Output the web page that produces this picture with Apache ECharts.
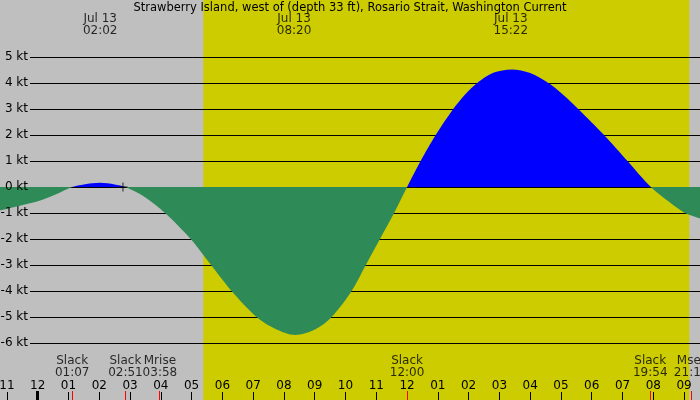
<!DOCTYPE html>
<html>
<head>
<meta charset="utf-8">
<script src="https://cdn.jsdelivr.net/npm/echarts@6/dist/echarts.min.js"></script>
<style>
html, body { margin: 0; padding: 0; background: #bfbfbf; }
#main { width: 700px; height: 400px; }
</style>
</head>
<body>
<div id="main"></div>
<script>
// hours after midnight, Jul 13
var times = [-1.23, -0.58, 0.08, 0.56, 1.12, 1.5, 2.03, 2.5, 2.85, 3.5, 4.14, 4.97, 5.6, 6.3, 7.11, 7.71, 8.36, 9.01, 9.55, 10.2, 10.66, 11.12, 11.58, 12.0, 12.44, 12.93, 13.5, 13.9, 14.28, 14.8, 15.4, 16.0, 16.59, 17.07, 17.56, 18.4, 19.16, 19.92, 20.5, 21.03, 21.55];
var speeds = [-0.9, -0.72, -0.52, -0.3, 0, 0.1, 0.16, 0.1, 0, -0.4, -1, -2, -2.95, -4, -5, -5.45, -5.69, -5.48, -5, -4, -3, -2, -1, 0, 1, 2, 3, 3.58, 4, 4.39, 4.52, 4.38, 4, 3.55, 3, 2, 1, 0, -0.56, -1, -1.22];

var ktLevels = [-6, -5, -4, -3, -2, -1, 0, 1, 2, 3, 4, 5];
var hourLabels = ['10', '11', '12', '01', '02', '03', '04', '05', '06', '07', '08', '09', '10', '11', '12', '01', '02', '03', '04', '05', '06', '07', '08', '09', '10'];
var daylight = [5.38, 21.17];
var midnights = [0];

var peakTimes = [2.03, 8.33, 15.37];
var peakDates = ['Jul 13', 'Jul 13', 'Jul 13'];
var peakLabels = ['02:02', '08:20', '15:22'];

var eventTimes = [1.12, 2.85, 3.97, 12.0, 19.9, 21.23];
var eventNames = ['Slack', 'Slack', 'Mrise', 'Slack', 'Slack', 'Mset'];
var eventLabels = ['01:07', '02:51', '03:58', '12:00', '19:54', '21:14'];

var nowMark = [2.77, 0];

var font = 'DejaVu Sans';
var floodColor = '#0000ff';
var ebbColor = '#2e8b57';
var myChart = echarts.init(document.getElementById('main'));

var option = {
    animation: false,
    backgroundColor: '#bfbfbf',
    textStyle: { fontFamily: font },
    title: {
        text: 'Strawberry Island, west of (depth 33 ft), Rosario Strait, Washington Current',
        left: 'center',
        top: 2,
        padding: 0,
        textStyle: { fontSize: 11.5, fontWeight: 'normal', color: '#000', fontFamily: font }
    },
    grid: [
        { left: 30, right: 0, top: 57, bottom: 57, outerBoundsMode: 'none' },           // kt lines
        { left: -23.86, right: -14.86, top: 57, bottom: 57, outerBoundsMode: 'none' },  // current curve
        { left: -23.86, right: -14.86, top: 0, bottom: 0, outerBoundsMode: 'none' }     // daylight, hours
    ],
    xAxis: [
        { gridIndex: 0, type: 'value', min: 0, max: 1, show: false },
        { gridIndex: 1, type: 'value', min: -2, max: 22, show: false },
        {
            gridIndex: 2, type: 'value', min: -2, max: 22, interval: 1, z: 10,
            axisLine: { show: false },
            splitLine: { show: false },
            axisTick: { inside: true, length: 8, lineStyle: { color: '#000', width: 1 } },
            axisLabel: {
                inside: true, margin: 8, color: '#000', fontSize: 12, fontFamily: font,
                formatter: function (v) { return hourLabels[Math.round(v) + 2]; }
            }
        }
    ],
    yAxis: [
        {
            gridIndex: 0, type: 'value', min: -6, max: 5, interval: 1, position: 'left', z: 10,
            axisLine: { show: false }, axisTick: { show: false }, splitLine: { show: false },
            axisLabel: { margin: 2, color: '#000', fontSize: 12, fontFamily: font, formatter: '{value} kt' }
        },
        { gridIndex: 1, type: 'value', min: -6, max: 5, show: false },
        { gridIndex: 2, type: 'value', min: 0, max: 1, show: false }
    ],
    series: [
        {
            // daylight band
            type: 'custom', xAxisIndex: 2, yAxisIndex: 2, z: 1, silent: true,
            data: [daylight],
            renderItem: function (params, api) {
                var a = api.coord([api.value(0), 1]);
                var b = api.coord([api.value(1), 0]);
                return { type: 'rect', shape: { x: a[0], y: a[1], width: b[0] - a[0], height: b[1] - a[1] }, style: { fill: '#cccc00' } };
            }
        },
        {
            // kt lines, under the fills
            type: 'custom', xAxisIndex: 0, yAxisIndex: 0, z: 2, silent: true,
            data: ktLevels.map(function (k) { return [0, k]; }),
            renderItem: function (params, api) {
                var a = api.coord([0, api.value(1)]);
                var b = api.coord([1, api.value(1)]);
                var y = Math.floor(a[1]) + 0.5;
                return { type: 'line', shape: { x1: a[0], y1: y, x2: b[0], y2: y }, style: { stroke: '#000', lineWidth: 1 } };
            }
        },
        {
            type: 'line', xAxisIndex: 1, yAxisIndex: 1, z: 3,
            data: times.map(function (t, i) { return [t, speeds[i]]; }),
            smooth: 0.3,
            symbol: 'none',
            lineStyle: { width: 0, opacity: 0 },
            areaStyle: { origin: 0, opacity: 1, color: ebbColor }
        },
        {
            type: 'scatter', xAxisIndex: 1, yAxisIndex: 1, z: 12,
            data: [nowMark],
            symbol: 'path://M0,4H9V5H0Z M4,0H5V9H4Z',
            symbolSize: 9,
            itemStyle: { color: '#000' }
        },
        {
            // midnight ticks
            type: 'custom', xAxisIndex: 2, yAxisIndex: 2, z: 12,
            data: midnights.map(function (t) { return [t]; }),
            renderItem: function (params, api) {
                var p = api.coord([api.value(0), 0]);
                return { type: 'rect', shape: { x: Math.floor(p[0]) - 1, y: p[1] - 9, width: 3, height: 9 }, style: { fill: '#000' } };
            }
        },
        {
            // event ticks
            type: 'custom', xAxisIndex: 2, yAxisIndex: 2, z: 12,
            data: eventTimes.map(function (t) { return [t]; }),
            renderItem: function (params, api) {
                var p = api.coord([api.value(0), 0]);
                return { type: 'rect', shape: { x: Math.floor(p[0]), y: p[1] - 9, width: 1, height: 9 }, style: { fill: '#ff0000' } };
            }
        },
        {
            type: 'scatter', xAxisIndex: 2, yAxisIndex: 2, z: 12, clip: false,
            symbolSize: 0,
            data: eventTimes.map(function (t) { return [t, 0]; }),
            label: {
                show: true, position: 'top', distance: 21, color: '#000', fontSize: 12, lineHeight: 12, fontFamily: font,
                formatter: function (p) { return eventNames[p.dataIndex] + '\n' + eventLabels[p.dataIndex]; }
            }
        },
        {
            type: 'scatter', xAxisIndex: 2, yAxisIndex: 2, z: 12, clip: false,
            symbolSize: 0,
            data: peakTimes.map(function (t) { return [t, 1]; }),
            label: {
                show: true, position: 'bottom', distance: 13, color: '#000', fontSize: 12, lineHeight: 12, fontFamily: font,
                formatter: function (p) { return peakDates[p.dataIndex] + '\n' + peakLabels[p.dataIndex]; }
            }
        }
    ]
};
myChart.setOption(option);

// blue above 0 kt, green below: split the fill at the zero line
var zeroY = myChart.convertToPixel({ xAxisIndex: 1, yAxisIndex: 1 }, [0, 0])[1];
var h = myChart.getHeight();
myChart.setOption({
    series: [{}, {}, {
        areaStyle: {
            color: new echarts.graphic.LinearGradient(0, 0, 0, h, [
                { offset: 0, color: floodColor },
                { offset: zeroY / h, color: floodColor },
                { offset: zeroY / h, color: ebbColor },
                { offset: 1, color: ebbColor }
            ], true)
        }
    }]
});
</script>
</body>
</html>
